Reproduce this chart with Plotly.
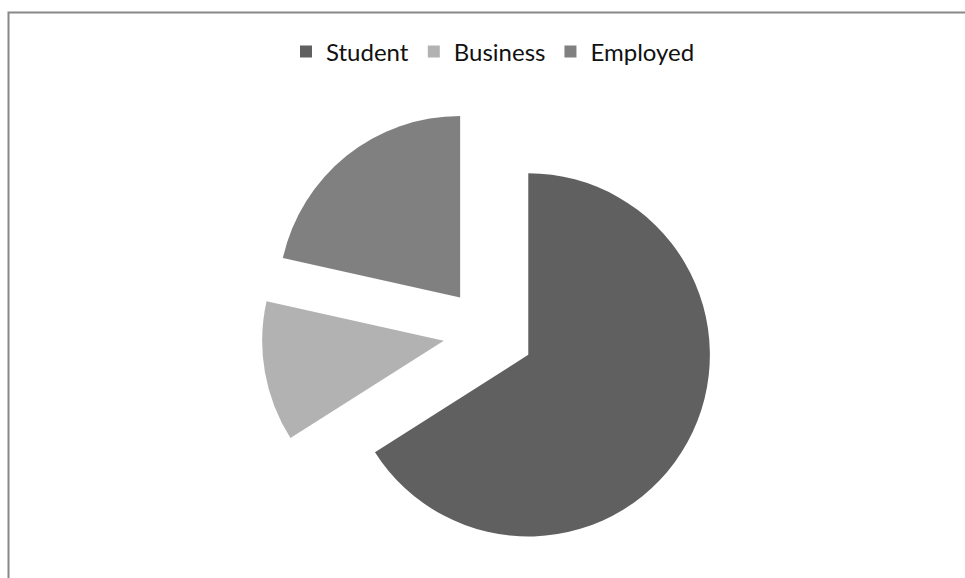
import plotly.graph_objects as go

# Share of respondents by occupation
categories = ["Student", "Business", "Employed"]
shares = [66.0, 12.5, 21.5]
slice_colors = ["#606060", "#b2b2b2", "#808080"]

W, H = 965, 578
margin = dict(l=12, r=0, t=106, b=18)
plot_w = W - margin["l"] - margin["r"]
plot_h = H - margin["t"] - margin["b"]


def px_to_paper_x(px):
    return (px - margin["l"]) / plot_w


def px_to_paper_y(py):
    return 1 - (py - margin["t"]) / plot_h


fig = go.Figure(
    go.Pie(
        labels=categories,
        values=shares,
        sort=False,
        direction="clockwise",
        rotation=0,
        pull=[0.25, 0.25, 0.25],
        marker=dict(colors=slice_colors, line=dict(width=0)),
        textinfo="none",
        hoverinfo="label+percent",
    )
)

# Chart-area frame (top and left edges visible)
fig.add_shape(
    type="rect",
    xref="paper", yref="paper",
    x0=px_to_paper_x(8.5), x1=px_to_paper_x(W + 20),
    y0=px_to_paper_y(H + 20), y1=px_to_paper_y(12.5),
    line=dict(color="#888888", width=2),
    fillcolor="rgba(0,0,0,0)",
    layer="below",
)

fig.update_layout(
    width=W,
    height=H,
    margin=margin,
    paper_bgcolor="white",
    plot_bgcolor="white",
    font=dict(family="Lato, 'Liberation Sans', sans-serif", color="#111111"),
    showlegend=True,
    legend=dict(
        orientation="h",
        x=px_to_paper_x(493),
        xanchor="center",
        y=px_to_paper_y(52),
        yanchor="middle",
        font=dict(size=24, family="Lato, 'Liberation Sans', sans-serif", color="#111111"),
        itemclick=False,
        itemdoubleclick=False,
    ),
)

fig.write_html("out.html")
